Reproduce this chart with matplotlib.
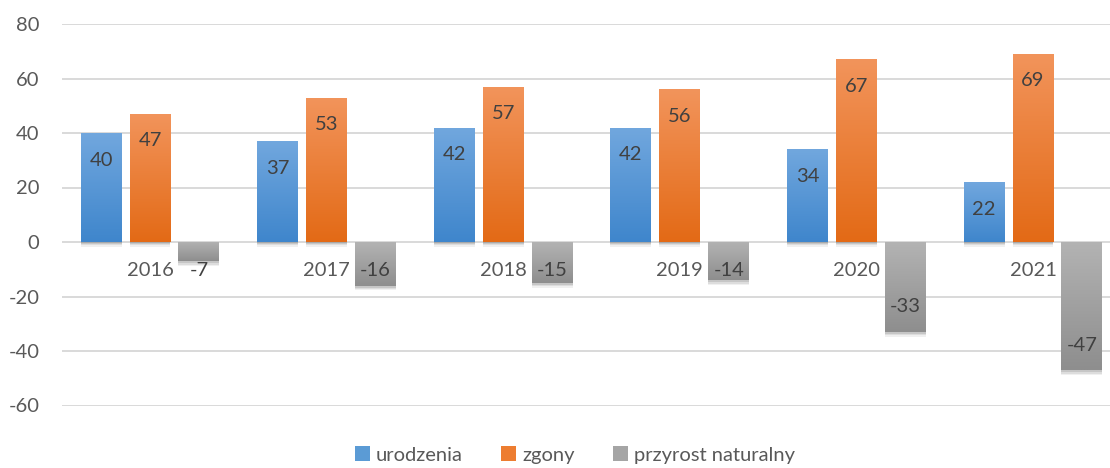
import matplotlib
matplotlib.use("Agg")
import matplotlib.pyplot as plt
import numpy as np
from matplotlib import patheffects as pe
from matplotlib.colors import LinearSegmentedColormap
from matplotlib.patches import Patch

years = ["2016", "2017", "2018", "2019", "2020", "2021"]
urodzenia = [40, 37, 42, 42, 34, 22]
zgony = [47, 53, 57, 56, 67, 69]
przyrost = [-7, -16, -15, -14, -33, -47]
series_names = ["urodzenia", "zgony", "przyrost naturalny"]

grad = {
    "urodzenia": ("#71a7de", "#3f86cc"),
    "zgony": ("#f2945b", "#e36a16"),
    "przyrost naturalny": ("#b3b3b3", "#8e8e8e"),
}
mid = {"urodzenia": "#5b9bd5", "zgony": "#ed7d31", "przyrost naturalny": "#a5a5a5"}

plt.rcParams['font.family'] = ['Lato', 'DejaVu Sans']
plt.rcParams['axes.unicode_minus'] = False
txt = "#595959"
fs = 14.5

fig = plt.figure(figsize=(11.10, 4.68), dpi=100)
ax = fig.add_axes([61.7/1110, 1-405.5/468, 1059.6/1110, (405.5-24)/468])
ax.set_xlim(-0.5, 5.5)
ax.set_ylim(-60, 80)
ax.set_yticks(np.arange(-60, 81, 20))
ax.yaxis.grid(True, color="#d9d9d9", lw=1.4)
ax.set_axisbelow(True)
ax.tick_params(axis='y', length=0, pad=16, labelsize=fs, labelcolor=txt)
ax.set_xticks([])
for s in ax.spines.values():
    s.set_visible(False)

x = np.arange(len(years))
w = 0.232
off = 0.277
data = [urodzenia, zgony, przyrost]
shadow = [pe.SimplePatchShadow(offset=(0, -3.5), alpha=0.06, shadow_rgbFace="#000000"),
          pe.SimplePatchShadow(offset=(0, -2.5), alpha=0.08, shadow_rgbFace="#000000"),
          pe.SimplePatchShadow(offset=(0, -1.5), alpha=0.10, shadow_rgbFace="#000000"),
          pe.Normal()]
for k, (name, vals) in enumerate(zip(series_names, data)):
    xs = x + (k - 1) * off
    bars = ax.bar(xs, vals, w, color=mid[name], zorder=2, path_effects=shadow)
    top, bot = grad[name]
    cmap = LinearSegmentedColormap.from_list(name, [bot, top])
    for b, v in zip(bars, vals):
        x0 = b.get_x()
        y0, y1 = min(0, v), max(0, v)
        g = np.linspace(0, 1, 100).reshape(-1, 1)
        im = ax.imshow(g, cmap=cmap, origin='lower', aspect='auto',
                       extent=[x0, x0 + w, y0, y1], zorder=3)
        im.set_clip_path(b)
        pix = abs(v) * (381.5 / 140)
        if v >= 0:
            ax.annotate(str(v), (x0 + w / 2, v), xytext=(0, -27 * 0.72),
                        textcoords='offset points', ha='center', va='center',
                        fontsize=fs, color="#404040", zorder=5)
        elif pix - 26 < 28:
            ax.annotate(str(v), (x0 + w / 2, 0), xytext=(0, -28 * 0.72),
                        textcoords='offset points', ha='center', va='center',
                        fontsize=fs, color="#404040", zorder=5)
        else:
            ax.annotate(str(v), (x0 + w / 2, v), xytext=(0, 25 * 0.72),
                        textcoords='offset points', ha='center', va='center',
                        fontsize=fs, color="#404040", zorder=5)

for i, y in enumerate(years):
    ax.annotate(y, (i, 0), xytext=(0, -28 * 0.72), textcoords='offset points',
                ha='center', va='center', fontsize=fs, color=txt, zorder=4)

handles = [Patch(facecolor=mid[n], edgecolor='none') for n in series_names]
fig.legend(handles, series_names, loc='center', bbox_to_anchor=(575/1110, 1-455/468),
           ncol=3, frameon=False, fontsize=fs, labelcolor=txt,
           handlelength=0.75, handleheight=0.75, handletextpad=0.3, columnspacing=1.9)

fig.savefig("out.png", dpi=100)
